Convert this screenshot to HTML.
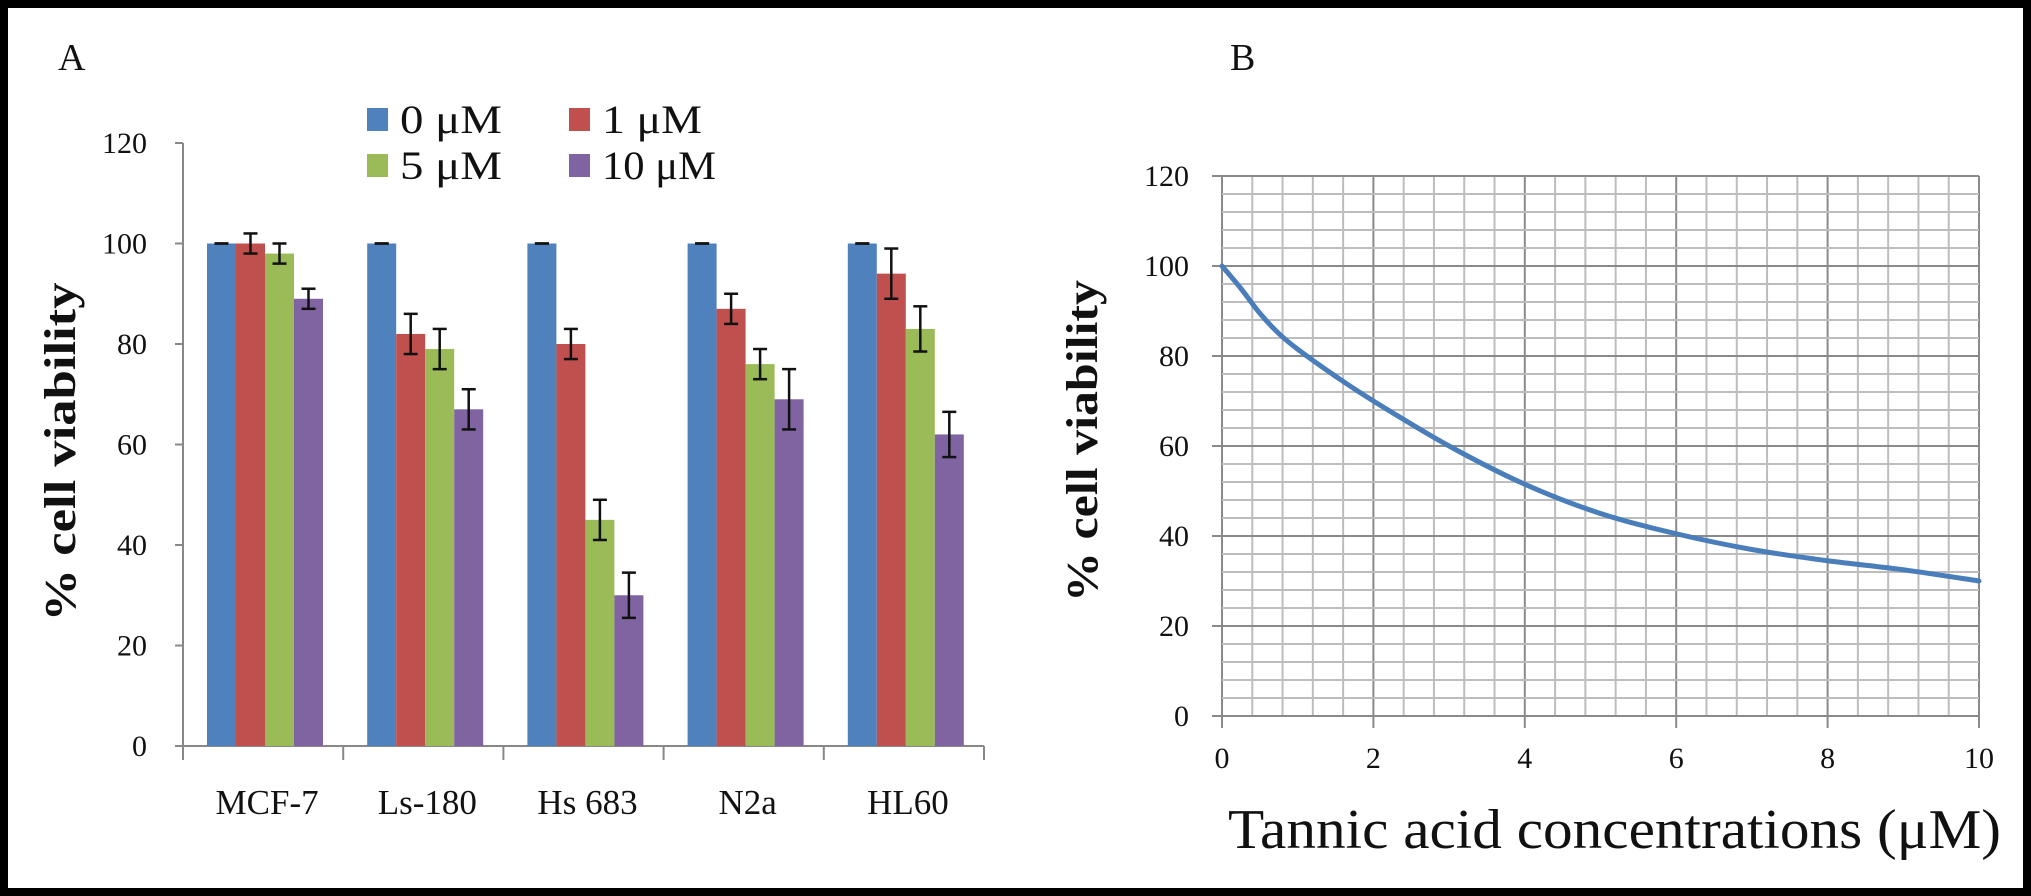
<!DOCTYPE html>
<html><head><meta charset="utf-8"><style>
html,body{margin:0;padding:0;background:#000;}
#wrap{position:absolute;left:0;top:0;width:2031px;height:896px;background:#000;}
svg{position:absolute;left:0;top:0;}
text{font-family:"Liberation Serif",serif;fill:#111;}
</style></head><body>
<div id="wrap">
<svg id="svg" width="2031" height="896">
<rect x="8" y="8" width="2015" height="880" fill="#fff"/>
<g id="A"></g>
<g id="B"></g>
</svg>
</div>
<script>
const categories = ["MCF-7","Ls-180","Hs 683","N2a","HL60"];
const seriesNames = ["0 μM","1 μM","5 μM","10 μM"];
const s0 = [100,100,100,100,100];
const s1 = [100,82,80,87,94];
const s5 = [98,79,45,76,83];
const s10 = [89,67,30,69,62];
const e0 = [0,0,0,0,0];
const e1 = [2,4,3,3,5];
const e5 = [2,4,4,3,4.5];
const e10 = [2,4,4.5,6,4.5];
const yTicksA = [0,20,40,60,80,100,120];
const curveX = [0,0.25,0.5,0.75,1,1.5,2,3,4,5,6,7,8,9,10];
const curveY = [100,95,89.5,85,81.5,75.5,70,60,51.5,45,40.5,37,34.5,32.5,30];
const xTicksB = [0,2,4,6,8,10];
const yTicksB = [0,20,40,60,80,100,120];

const NS="http://www.w3.org/2000/svg";
function mk(tag,attrs,parent,txt){const e=document.createElementNS(NS,tag);for(const k in attrs)e.setAttribute(k,attrs[k]);if(txt!==undefined)e.textContent=txt;parent.appendChild(e);return e;}
const colors=["#4f81bd","#c0504d","#9bbb59","#8064a2"];
const series=[s0,s1,s5,s10], errs=[e0,e1,e5,e10];

// Panel A
const A=document.getElementById('A');
const ax0=183, ax1=984, ay0=746, ay120=143;
const yA=v=>ay0-(v/120)*(ay0-ay120);
const catW=(ax1-ax0)/categories.length;
let t;
t=mk('text',{x:58,y:70,'font-size':38},A,'A');


let l=mk('line',{x1:ax0,y1:ay120,x2:ax0,y2:ay0,stroke:'#888','stroke-width':2},A);


l=mk('line',{x1:ax0,y1:ay0,x2:ax1,y2:ay0,stroke:'#888','stroke-width':2},A);


yTicksA.forEach(v=>{
  mk('line',{x1:ax0-8,y1:yA(v),x2:ax0,y2:yA(v),stroke:'#888','stroke-width':2},A);
  const tt=mk('text',{x:147,y:yA(v)+10,'font-size':30,'text-anchor':'end'},A,String(v));
  
  
});
for(let i=0;i<=categories.length;i++){mk('line',{x1:ax0+i*catW,y1:ay0,x2:ax0+i*catW,y2:ay0+14,stroke:'#888','stroke-width':2},A);}
const bw=29;
categories.forEach((c,i)=>{
  const gx=ax0+i*catW+24;
  series.forEach((s,j)=>{
    const x=gx+j*bw, y=yA(s[i]);
    const r=mk('rect',{x:x,y:y,width:bw,height:ay0-y,fill:colors[j]},A);
    
    
    const e=errs[j][i], cx=x+bw/2;
    const g=mk('g',{stroke:'#111','stroke-width':2.5},A);
    
    
    mk('line',{x1:cx,y1:yA(s[i]+e),x2:cx,y2:yA(s[i]-e)},g);
    mk('line',{x1:cx-7,y1:yA(s[i]+e),x2:cx+7,y2:yA(s[i]+e)},g);
    mk('line',{x1:cx-7,y1:yA(s[i]-e),x2:cx+7,y2:yA(s[i]-e)},g);
  });
  const tt=mk('text',{x:ax0+i*catW+catW/2+4,y:814,'font-size':35,'text-anchor':'middle'},A,c);
  
  
});
t=mk('text',{x:0,y:0,'font-size':44,'font-weight':'bold','text-anchor':'middle',textLength:339,lengthAdjust:'spacingAndGlyphs',transform:'translate(75,452) rotate(-90)'},A,'% cell viability');


const legW=[102,100,102,114];
seriesNames.forEach((n,j)=>{
  const lx=367+(j%2)*202, ly=108+Math.floor(j/2)*46;
  const g=mk('g',{},A);
  
  
  mk('rect',{x:lx,y:ly,width:21,height:23,fill:colors[j]},g);
  mk('text',{x:lx+33,y:ly+25,'font-size':40,textLength:legW[j],lengthAdjust:'spacingAndGlyphs'},g,n);
});

// Panel B
const B=document.getElementById('B');
const bx0=1222, bx1=1979, by0=716, by120=176;
const xB=v=>bx0+(v/10)*(bx1-bx0);
const yB=v=>by0-(v/120)*(by0-by120);
t=mk('text',{x:1230,y:70,'font-size':38},B,'B');


const grid=mk('g',{},B);


for(let k=0;k<=25;k++){const v=k*0.4;const major=k%5===0;mk('line',{x1:xB(v),y1:by120,x2:xB(v),y2:by0,stroke:major?'#8a8a8a':'#bdbdbd','stroke-width':2},grid);}
for(let k=0;k<=30;k++){const v=k*4;const major=k%5===0;mk('line',{x1:bx0,y1:yB(v),x2:bx1,y2:yB(v),stroke:major?'#8a8a8a':'#bdbdbd','stroke-width':2},grid);}
yTicksB.forEach(v=>{
  mk('line',{x1:bx0-10,y1:yB(v),x2:bx0,y2:yB(v),stroke:'#8a8a8a','stroke-width':2},B);
  const tt=mk('text',{x:1189,y:yB(v)+10,'font-size':30,'text-anchor':'end'},B,String(v));
  
  
});
xTicksB.forEach(v=>{
  mk('line',{x1:xB(v),y1:by0,x2:xB(v),y2:by0+12,stroke:'#8a8a8a','stroke-width':2},B);
  const tt=mk('text',{x:xB(v),y:768,'font-size':30,'text-anchor':'middle'},B,String(v));
  
  
});
const pts=curveX.map((x,i)=>[xB(x),yB(curveY[i])]);
let d='M'+pts[0][0]+','+pts[0][1];
for(let i=0;i<pts.length-1;i++){
  const p0=pts[Math.max(0,i-1)],p1=pts[i],p2=pts[i+1],p3=pts[Math.min(pts.length-1,i+2)];
  const c1=[p1[0]+(p2[0]-p0[0])/6,p1[1]+(p2[1]-p0[1])/6];
  const c2=[p2[0]-(p3[0]-p1[0])/6,p2[1]-(p3[1]-p1[1])/6];
  d+=' C'+c1[0]+','+c1[1]+' '+c2[0]+','+c2[1]+' '+p2[0]+','+p2[1];
}
const path=mk('path',{d:d,fill:'none',stroke:'#4a7ebb','stroke-width':5,'stroke-linecap':'round'},B);


t=mk('text',{x:0,y:0,'font-size':44,'font-weight':'bold','text-anchor':'middle',textLength:322,lengthAdjust:'spacingAndGlyphs',transform:'translate(1097,441) rotate(-90)'},B,'% cell viability');


t=mk('text',{x:1228,y:848,'font-size':56,textLength:773,lengthAdjust:'spacingAndGlyphs'},B,'Tannic acid concentrations (μM)');


</script>
</body></html>
